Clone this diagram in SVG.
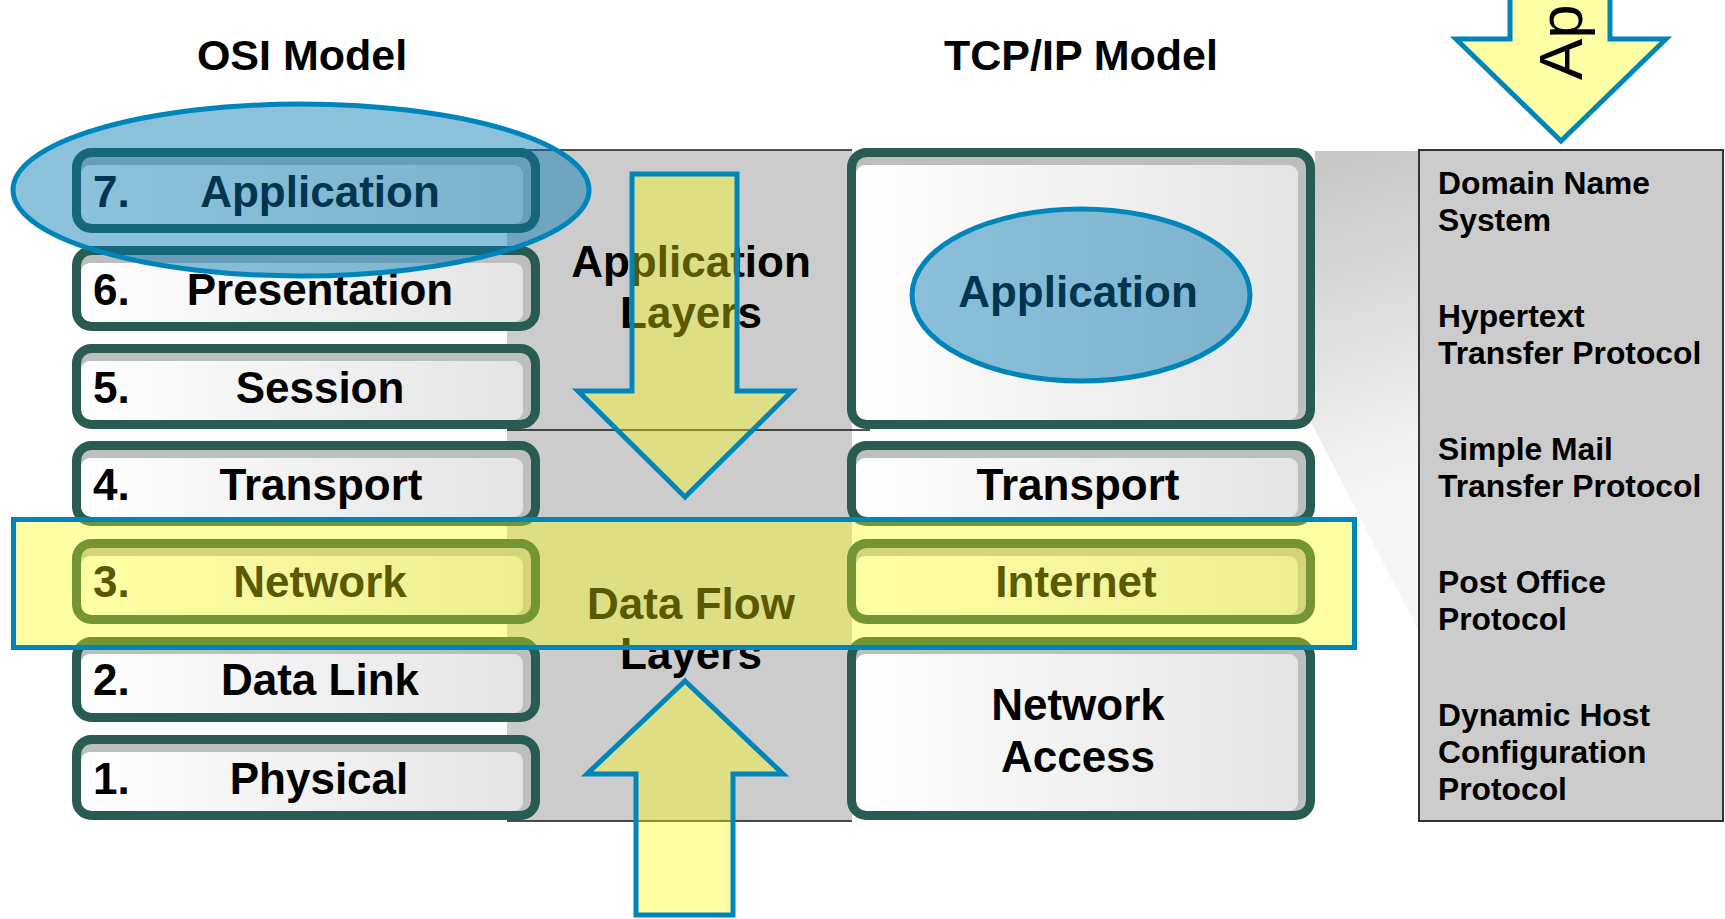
<svg xmlns="http://www.w3.org/2000/svg" width="1725" height="919" viewBox="0 0 1725 919">
<defs>
<linearGradient id="boxg" x1="0" y1="0" x2="1" y2="0">
<stop offset="0" stop-color="#ffffff"/>
<stop offset="1" stop-color="#e4e4e4"/>
</linearGradient>
<linearGradient id="callg" gradientUnits="userSpaceOnUse" x1="1330" y1="170" x2="1420" y2="480">
<stop offset="0" stop-color="#c8c8c8"/>
<stop offset="1" stop-color="#f6f6f6"/>
</linearGradient>
<style>
.t{font-family:"Liberation Sans",Arial,sans-serif;font-weight:bold;fill:#000}
.big{font-size:44px}
.ttl{font-size:43px}
.pn{font-size:31.8px}
.bg{fill:#bebebe}
.in{fill:url(#boxg)}
.st{fill:none;stroke:#285c52;stroke-width:9}
.ln{stroke:#1a1a1a;stroke-width:1.6}
.yel{fill:#ffff00;fill-opacity:0.35;stroke:#0085bb;stroke-width:5;stroke-linejoin:miter}
.blu{fill:#0076af;fill-opacity:0.45;stroke:#0085bb;stroke-width:5}
</style>
</defs>
<rect width="1725" height="919" fill="#ffffff"/>

<g id="titles">
<text class="t ttl" x="302" y="70" text-anchor="middle">OSI Model</text>
<text class="t ttl" x="1081" y="70" text-anchor="middle">TCP/IP Model</text>
</g>

<g id="backdrop">
<rect x="507" y="150" width="345" height="671" fill="#cccccc"/>
<line class="ln" x1="507" y1="150" x2="852" y2="150"/>
<line class="ln" x1="507" y1="430" x2="870" y2="430"/>
<line class="ln" x1="507" y1="821" x2="852" y2="821"/>
</g>

<g id="callout">
<polygon points="1315,151 1419,151 1419,632 1312,424" fill="url(#callg)"/>
</g>

<g id="osi-7">
<rect class="bg" x="76.5" y="152.5" width="459" height="76" rx="15"/>
<rect class="in" x="81" y="165" width="442" height="59" rx="9"/>
<rect class="st" x="76.5" y="152.5" width="459" height="76" rx="15"/>
<text class="t big" x="93" y="207">7.</text>
<text class="t big" x="320" y="207" text-anchor="middle">Application</text>
</g>
<g id="osi-6">
<rect class="bg" x="76.5" y="250.5" width="459" height="76" rx="15"/>
<rect class="in" x="81" y="263" width="442" height="59" rx="9"/>
<rect class="st" x="76.5" y="250.5" width="459" height="76" rx="15"/>
<text class="t big" x="93" y="305">6.</text>
<text class="t big" x="320" y="305" text-anchor="middle">Presentation</text>
</g>
<g id="osi-5">
<rect class="bg" x="76.5" y="348.5" width="459" height="76" rx="15"/>
<rect class="in" x="81" y="361" width="442" height="59" rx="9"/>
<rect class="st" x="76.5" y="348.5" width="459" height="76" rx="15"/>
<text class="t big" x="93" y="403">5.</text>
<text class="t big" x="320" y="403" text-anchor="middle">Session</text>
</g>
<g id="osi-4">
<rect class="bg" x="76.5" y="445.5" width="459" height="76" rx="15"/>
<rect class="in" x="81" y="458" width="442" height="59" rx="9"/>
<rect class="st" x="76.5" y="445.5" width="459" height="76" rx="15"/>
<text class="t big" x="93" y="500">4.</text>
<text class="t big" x="321" y="500" text-anchor="middle">Transport</text>
</g>
<g id="osi-3">
<rect class="bg" x="76.5" y="543.5" width="459" height="76" rx="15"/>
<rect class="in" x="81" y="556" width="442" height="59" rx="9"/>
<rect class="st" x="76.5" y="543.5" width="459" height="76" rx="15"/>
<text class="t big" x="93" y="597">3.</text>
<text class="t big" x="320" y="597" text-anchor="middle">Network</text>
</g>
<g id="osi-2">
<rect class="bg" x="76.5" y="641.5" width="459" height="76" rx="15"/>
<rect class="in" x="81" y="654" width="442" height="59" rx="9"/>
<rect class="st" x="76.5" y="641.5" width="459" height="76" rx="15"/>
<text class="t big" x="93" y="695">2.</text>
<text class="t big" x="320" y="695" text-anchor="middle">Data Link</text>
</g>
<g id="osi-1">
<rect class="bg" x="76.5" y="739.5" width="459" height="76" rx="15"/>
<rect class="in" x="81" y="752" width="442" height="59" rx="9"/>
<rect class="st" x="76.5" y="739.5" width="459" height="76" rx="15"/>
<text class="t big" x="93" y="794">1.</text>
<text class="t big" x="319" y="794" text-anchor="middle">Physical</text>
</g>

<g id="tcp-application">
<rect class="bg" x="851.5" y="152.5" width="459" height="272" rx="15"/>
<rect class="in" x="856" y="165" width="442" height="255" rx="9"/>
<rect class="st" x="851.5" y="152.5" width="459" height="272" rx="15"/>
<text class="t big" x="1078" y="307" text-anchor="middle">Application</text>
<ellipse class="blu" cx="1081" cy="295" rx="169" ry="86"/>
</g>
<g id="tcp-transport">
<rect class="bg" x="851.5" y="445.5" width="459" height="76" rx="15"/>
<rect class="in" x="856" y="458" width="442" height="59" rx="9"/>
<rect class="st" x="851.5" y="445.5" width="459" height="76" rx="15"/>
<text class="t big" x="1078" y="500" text-anchor="middle">Transport</text>
</g>
<g id="tcp-internet">
<rect class="bg" x="851.5" y="543.5" width="459" height="76" rx="15"/>
<rect class="in" x="856" y="556" width="442" height="59" rx="9"/>
<rect class="st" x="851.5" y="543.5" width="459" height="76" rx="15"/>
<text class="t big" x="1076" y="597" text-anchor="middle">Internet</text>
</g>
<g id="tcp-network-access">
<rect class="bg" x="851.5" y="641.5" width="459" height="174" rx="15"/>
<rect class="in" x="856" y="654" width="442" height="157" rx="9"/>
<rect class="st" x="851.5" y="641.5" width="459" height="174" rx="15"/>
<text class="t big" x="1078" y="720" text-anchor="middle">Network</text>
<text class="t big" x="1078" y="772" text-anchor="middle">Access</text>
</g>

<g id="osi-7-highlight">
<ellipse class="blu" cx="301" cy="190" rx="288" ry="86"/>
</g>

<g id="layer-labels">
<text class="t big" x="691" y="277" text-anchor="middle">Application</text>
<text class="t big" x="691" y="328" text-anchor="middle">Layers</text>
<text class="t big" x="691" y="619" text-anchor="middle">Data Flow</text>
<text class="t big" x="691" y="669" text-anchor="middle">Layers</text>
</g>

<g id="protocols">
<rect x="1419" y="150" width="304" height="671" fill="#cccccc" stroke="#333333" stroke-width="2"/>
<text class="t pn" x="1438" y="194">Domain Name</text>
<text class="t pn" x="1438" y="231">System</text>
<text class="t pn" x="1438" y="327">Hypertext</text>
<text class="t pn" x="1438" y="364">Transfer Protocol</text>
<text class="t pn" x="1438" y="460">Simple Mail</text>
<text class="t pn" x="1438" y="497">Transfer Protocol</text>
<text class="t pn" x="1438" y="593">Post Office</text>
<text class="t pn" x="1438" y="630">Protocol</text>
<text class="t pn" x="1438" y="726">Dynamic Host</text>
<text class="t pn" x="1438" y="763">Configuration</text>
<text class="t pn" x="1438" y="800">Protocol</text>
</g>

<g id="connectors">
<polygon class="yel" points="632,174 737,174 737,391 792,391 685,497 578,391 632,391"/>
<polygon class="yel" points="685,681 783,774 733,774 733,915 636,915 636,774 587,774"/>
<rect class="yel" x="13.5" y="519.5" width="1341" height="128"/>
<polygon class="yel" points="1510,-10 1610,-10 1610,39 1666,39 1561,141 1456,39 1510,39"/>
<text x="1582" y="80" transform="rotate(-90 1582 80)" font-family="Liberation Sans,Arial,sans-serif" font-size="62" fill="#000">Ap</text>
</g>
</svg>
